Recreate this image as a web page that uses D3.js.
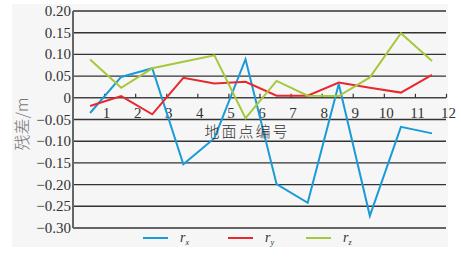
<!DOCTYPE html>
<html><head><meta charset="utf-8">
<script src="https://cdn.jsdelivr.net/npm/d3@7"></script>
<style>html,body{margin:0;padding:0;background:#fff;}</style>
</head><body>
<svg id="c" width="461" height="259"></svg>
<script>
const categories = [1,2,3,4,5,6,7,8,9,10,11,12];
const xTickLabels = ["1","2","3","4","5","6","7","8","9","10","11","12"];
const yTicks = [0.20,0.15,0.10,0.05,0,-0.05,-0.10,-0.15,-0.20,-0.25,-0.30];
const rx = [-0.035,0.048,0.068,-0.153,-0.093,0.089,-0.199,-0.242,0.032,-0.272,-0.067,-0.082];
const ry = [-0.019,0.004,-0.038,0.046,0.033,0.037,0.005,0.005,0.035,0.023,0.012,0.053];
const rz = [0.088,0.023,0.068,0.083,0.098,-0.047,0.039,0.005,0.004,0.047,0.149,0.085];
const seriesNames = ["x","y","z"];
const colors = ["#1b9ad8","#e8282c","#a6c83c"];

const svg = d3.select("#c");
svg.append("rect").attr("x",12).attr("y",4).attr("width",436).attr("height",243).attr("fill","#f6f6f6");

const L=73, R=446, T=11, B=228;
const x = d3.scaleLinear().domain([0,12]).range([L,R]);
const y = d3.scaleLinear().domain([-0.30,0.20]).range([B,T]);

// gridlines
svg.append("g").selectAll("line").data(yTicks).join("line")
  .attr("x1",L).attr("x2",R).attr("y1",d=>y(d)).attr("y2",d=>y(d))
  .attr("stroke",d=>d===0?"#444":"#333").attr("stroke-width",1.4);
// left axis
svg.append("line").attr("x1",L).attr("x2",L).attr("y1",T).attr("y2",B).attr("stroke","#666").attr("stroke-width",2);

// y tick labels
svg.append("g").selectAll("text").data(yTicks).join("text")
  .attr("x",L-2).attr("y",d=>y(d)+5)
  .attr("text-anchor","end").attr("font-family","Liberation Serif").attr("font-size",15).attr("fill","#333")
  .text(d=>d===0?"0":d3.format(".2f")(d).replace("-","\u2212"));

// x ticks on zero line
const xAxis = d3.axisBottom(x).tickValues(d3.range(1,13)).tickSize(-4).tickFormat((d,i)=>xTickLabels[i]).tickPadding(10);
const gx = svg.append("g").attr("transform",`translate(0,${y(0)})`).call(xAxis);
gx.select(".domain").remove();
gx.selectAll(".tick line").attr("stroke","#333").attr("stroke-width",1.2);
gx.selectAll(".tick text").attr("font-family","Liberation Serif").attr("font-size",15).attr("fill","#333").attr("dx",2);

// series
const line = d3.line().x((d,i)=>x(categories[i]-0.45)).y(d=>y(d));
[rx,ry,rz].forEach((s,k)=>{
  svg.append("path").datum(s).attr("d",line).attr("fill","none")
    .attr("stroke",colors[k]).attr("stroke-width",2).attr("stroke-linejoin","miter");
});

// x title
svg.append("text").attr("x",247).attr("y",137).attr("text-anchor","middle")
  .attr("font-family","Noto Sans CJK SC").attr("font-weight",300).attr("font-size",15).attr("letter-spacing",2).attr("fill","#333")
  .text("地面点编号");
// y title
svg.append("text").attr("transform","translate(28,124) rotate(-90)").attr("text-anchor","middle")
  .attr("font-family","Noto Sans CJK SC").attr("font-weight",300).attr("font-size",16).attr("fill","#777")
  .text("残差/m");

// legend
const lx=[143,228,306];
seriesNames.forEach((n,k)=>{
  svg.append("line").attr("x1",lx[k]).attr("x2",lx[k]+25).attr("y1",238).attr("y2",238)
    .attr("stroke",colors[k]).attr("stroke-width",2);
  const t = svg.append("text").attr("x",lx[k]+37).attr("y",242)
    .attr("font-family","Liberation Serif").attr("font-style","italic").attr("font-size",14).attr("fill","#333");
  t.append("tspan").text("r");
  t.append("tspan").attr("dy",3).attr("font-size",8).text(n);
});
</script>
</body></html>
